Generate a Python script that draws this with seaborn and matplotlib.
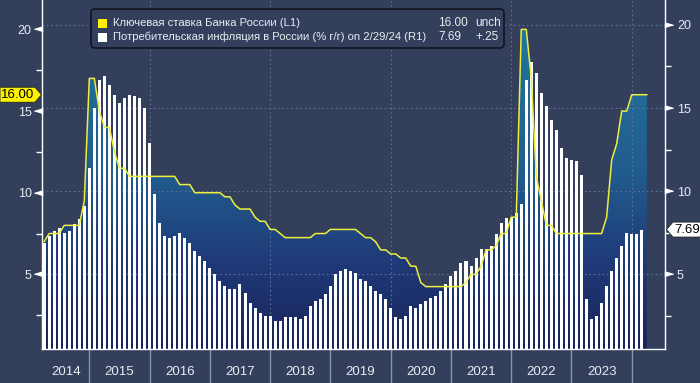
import numpy as np
import pandas as pd
import matplotlib
matplotlib.use("Agg")
import matplotlib.pyplot as plt
import seaborn as sns
from matplotlib.colors import LinearSegmentedColormap
from matplotlib.patches import FancyBboxPatch, Rectangle, Polygon
from matplotlib.transforms import IdentityTransform

# ---------------- data ----------------
inflation_start = "2014-03"
inflation = [
    6.9, 7.3, 7.6, 7.8, 7.5, 7.6, 8.0, 8.3, 9.1, 11.4,                 # 2014 (Mar-Dec)
    15.0, 16.7, 16.9, 16.4, 15.8, 15.3, 15.6, 15.8, 15.7, 15.6, 15.0, 12.9,  # 2015
    9.8, 8.1, 7.3, 7.2, 7.3, 7.5, 7.2, 6.9, 6.4, 6.1, 5.8, 5.4,          # 2016
    5.0, 4.6, 4.3, 4.1, 4.1, 4.4, 3.9, 3.3, 3.0, 2.7, 2.5, 2.5,          # 2017
    2.2, 2.2, 2.4, 2.4, 2.4, 2.3, 2.5, 3.1, 3.4, 3.5, 3.8, 4.3,          # 2018
    5.0, 5.2, 5.3, 5.2, 5.1, 4.7, 4.6, 4.3, 4.0, 3.8, 3.5, 3.0,          # 2019
    2.4, 2.3, 2.5, 3.1, 3.0, 3.2, 3.4, 3.6, 3.7, 4.0, 4.4, 4.9,          # 2020
    5.2, 5.7, 5.8, 5.5, 6.0, 6.5, 6.5, 6.7, 7.4, 8.1, 8.4, 8.4,          # 2021
    8.7, 9.2, 16.7, 17.8, 17.1, 15.9, 15.1, 14.3, 13.7, 12.6, 12.0, 11.9,  # 2022
    11.8, 11.0, 3.5, 2.3, 2.5, 3.3, 4.3, 5.2, 6.0, 6.7, 7.5, 7.4,        # 2023
    7.44, 7.69,                                                           # 2024
]
rate_start = "2014-03"
key_rate = [
    7.0, 7.5, 7.5, 7.5, 8.0, 8.0, 8.0, 8.0, 9.5, 17.0,                   # 2014
    17.0, 15.0, 14.0, 14.0, 12.5, 11.5, 11.5, 11.0, 11.0, 11.0, 11.0, 11.0,  # 2015
    11.0, 11.0, 11.0, 11.0, 11.0, 10.5, 10.5, 10.5, 10.0, 10.0, 10.0, 10.0,  # 2016
    10.0, 10.0, 9.75, 9.75, 9.25, 9.0, 9.0, 9.0, 8.5, 8.25, 8.25, 7.75,  # 2017
    7.75, 7.5, 7.25, 7.25, 7.25, 7.25, 7.25, 7.25, 7.5, 7.5, 7.5, 7.75,  # 2018
    7.75, 7.75, 7.75, 7.75, 7.75, 7.5, 7.25, 7.25, 7.0, 6.5, 6.5, 6.25,  # 2019
    6.25, 6.0, 6.0, 5.5, 5.5, 4.5, 4.25, 4.25, 4.25, 4.25, 4.25, 4.25,   # 2020
    4.25, 4.25, 4.5, 5.0, 5.0, 5.5, 6.5, 6.5, 6.75, 7.5, 7.5, 8.5,       # 2021
    8.5, 20.0, 20.0, 17.0, 11.0, 9.5, 8.0, 8.0, 7.5, 7.5, 7.5, 7.5,      # 2022
    7.5, 7.5, 7.5, 7.5, 7.5, 7.5, 8.5, 12.0, 13.0, 15.0, 15.0, 16.0,     # 2023
    16.0, 16.0, 16.0,                                                     # 2024
]
year_labels = ["2014", "2015", "2016", "2017", "2018", "2019", "2020", "2021", "2022", "2023"]
y_ticks = [5, 10, 15, 20]
y_minor = [2.5, 7.5, 12.5, 17.5]
legend_names = ["Ключевая ставка Банка России (L1)",
                "Потребительская инфляция в России (% г/г) on 2/29/24 (R1)"]

# ---------------- style ----------------
plt.rcParams["font.family"] = ["Liberation Sans", "DejaVu Sans"]
BG = "#333f5b"
GRID = "#5f7196"
YEL = "#eeee3c"
TXT = "#e9edf3"
SEP = "#8c96ab"
W, H = 700, 383

def month_pos(start, n):
    p = pd.period_range(start, periods=n, freq="M")
    # position at month end, in months since 2014-01-01
    return np.asarray((p.year - 2014) * 12 + p.month, dtype=float)

x_inf = month_pos(inflation_start, len(inflation))
x_rate = month_pos(rate_start, len(key_rate))
base_year = 2014
year_pos = [(int(y) - base_year) * 12 for y in year_labels[1:]] + [(int(year_labels[-1]) + 1 - base_year) * 12]

XL = (2.58, 126.62)
YL_L = (0.43, 21.8)
YL_R = (0.505, 21.5)

fig = plt.figure(figsize=(W / 100, H / 100), dpi=100, facecolor=BG)
ax = fig.add_axes([42 / W, 1 - 349 / H, 623 / W, 349 / H])
ax.set_facecolor(BG)
axb = ax.twinx()
axl = ax.twinx()

# gradient area under key rate (left scale)
poly = ax.fill_between(x_rate, key_rate, YL_L[0] - 1, facecolor="none", edgecolor="none")
cmap = LinearSegmentedColormap.from_list(
    "g", [(0.0, "#1a245b"), (0.25, "#1f3a78"), (0.5, "#215c8e"), (1.0, "#217aa2")])
grad = np.linspace(0, 1, 256).reshape(-1, 1)
im = ax.imshow(grad, extent=[XL[0], XL[1], YL_L[0], YL_L[1]], origin="lower",
               aspect="auto", cmap=cmap, zorder=1, interpolation="bilinear")
im.set_clip_path(poly.get_paths()[0], transform=ax.transData)

# inflation bars (right scale)
sns.barplot(x=x_inf, y=inflation, native_scale=True, ax=axb, color="white",
            saturation=1, width=0.6, linewidth=0, errorbar=None, zorder=2)

# key rate line (left scale, on top)
sns.lineplot(x=x_rate, y=key_rate, ax=axl, color=YEL, linewidth=1.1,
             sort=False, estimator=None, zorder=3)

for a in (ax, axb, axl):
    a.set_xlim(XL)
    a.set_xlabel("")
    a.set_ylabel("")
ax.set_ylim(YL_L)
axl.set_ylim(YL_L)
axb.set_ylim(YL_R)

# grid (right scale)
axb.set_axisbelow(True)
axb.grid(axis="y", which="major", color=GRID, linestyle=(0, (1.5, 2.5)), linewidth=0.8)
for xp in year_pos[1::2]:
    axb.axvline(xp, color=GRID, linestyle=(0, (1.5, 2.5)), linewidth=0.8, zorder=0.5)

# spines
for a in (ax, axb):
    for s in a.spines.values():
        s.set_visible(False)
for k, s in axl.spines.items():
    s.set_visible(k != "top")
    s.set_color("white")
    s.set_linewidth(1)
axl.set_yticks([])

# left y axis
ax.set_yticks(y_ticks)
ax.set_yticklabels([str(t) for t in y_ticks])
ax.set_yticks(y_minor, minor=True)
ax.tick_params(axis="y", which="major", length=0, pad=7.5, labelsize=9, labelcolor=TXT)
ax.tick_params(axis="y", which="minor", length=4, width=1, color="white", direction="out")
ax.plot([-0.0072] * len(y_ticks), y_ticks, transform=ax.get_yaxis_transform(),
        marker=[(-1, 0), (1, 0.6), (1, -0.6)], ms=5.8, color="white",
        linestyle="none", clip_on=False)

# right y axis
axb.set_yticks(y_ticks)
axb.set_yticklabels([str(t) for t in y_ticks])
axb.set_yticks(y_minor, minor=True)
axb.tick_params(axis="y", which="major", length=0, pad=8.6, labelsize=9, labelcolor=TXT)
axb.tick_params(axis="y", which="minor", length=4, width=1, color="white", direction="out")
axb.plot([1.0072] * len(y_ticks), y_ticks, transform=axb.get_yaxis_transform(),
         marker=[(1, 0), (-1, 0.6), (-1, -0.6)], ms=5.8, color="white",
         linestyle="none", clip_on=False)

# x axis: year separators + centred year labels
ax.set_xticks(year_pos)
ax.set_xticklabels([""] * len(year_pos))
centers = [(XL[0] + year_pos[0]) / 2] + [p + 6 for p in year_pos[:-1]]
ax.set_xticks(centers, minor=True)
ax.set_xticklabels(year_labels, minor=True)
ax.tick_params(axis="x", which="major", length=25, width=1, color=SEP, direction="out")
ax.tick_params(axis="x", which="minor", length=0, pad=12.5, labelsize=9.5, labelcolor=TXT)

# value tags
idt = IdentityTransform()
px, py = ax.transData.transform((XL[0], key_rate[-1]))
fig.add_artist(Polygon([(0, py - 7.5), (px - 7, py - 7.5), (px - 0.5, py),
                        (px - 7, py + 7.5), (0, py + 7.5)], closed=True,
                       facecolor="#fff200", edgecolor="#222222", lw=0.6,
                       transform=idt, zorder=10))
fig.text(px / 2 - 3, py, f"{key_rate[-1]:.2f}", transform=idt, ha="center",
         va="center", fontsize=9.5, color="black", zorder=11)
qx, qy = axb.transData.transform((XL[1], inflation[-1]))
fig.add_artist(Polygon([(qx + 1.5, qy), (qx + 8, qy + 7.5), (W + 2, qy + 7.5),
                        (W + 2, qy - 7.5), (qx + 8, qy - 7.5)], closed=True,
                       facecolor="white", edgecolor="#222222", lw=0.6,
                       transform=idt, zorder=10))
fig.text((qx + 8 + W) / 2 + 1, qy, f"{inflation[-1]:.2f}", transform=idt,
         ha="center", va="center", fontsize=9.5, color="black", zorder=11)

# legend
fig.add_artist(FancyBboxPatch((91, H - 48), 413, 39,
                              boxstyle="round,pad=0,rounding_size=4",
                              facecolor=BG, edgecolor="#10141f", lw=1.2,
                              transform=idt, zorder=10))
def chg(a, b):
    d = a - b
    if abs(d) < 1e-9:
        return "unch"
    return f"{d:+.2f}".replace("0.", ".")

rows = [(legend_names[0], "#fff000", f"{key_rate[-1]:.2f}", chg(key_rate[-1], key_rate[-2])),
        (legend_names[1], "white", f"{inflation[-1]:.2f}", chg(inflation[-1], inflation[-2]))]
for i, (name, col, val, dv) in enumerate(rows):
    yc = H - 23 - i * 14
    fig.add_artist(Rectangle((98, yc - 4.5), 9, 9, facecolor=col, edgecolor="none",
                             transform=idt, zorder=11))
    fig.text(113, yc, name, transform=idt, ha="left", va="center",
             fontsize=8.1, color=TXT, zorder=11)
    fig.text(438, yc, val, transform=idt, ha="left", va="center",
             fontsize=8.5, color=TXT, zorder=11)
    fig.text(475, yc, dv, transform=idt, ha="left", va="center",
             fontsize=8.5, color=TXT, zorder=11)

fig.savefig("out.png", dpi=100, facecolor=BG)
